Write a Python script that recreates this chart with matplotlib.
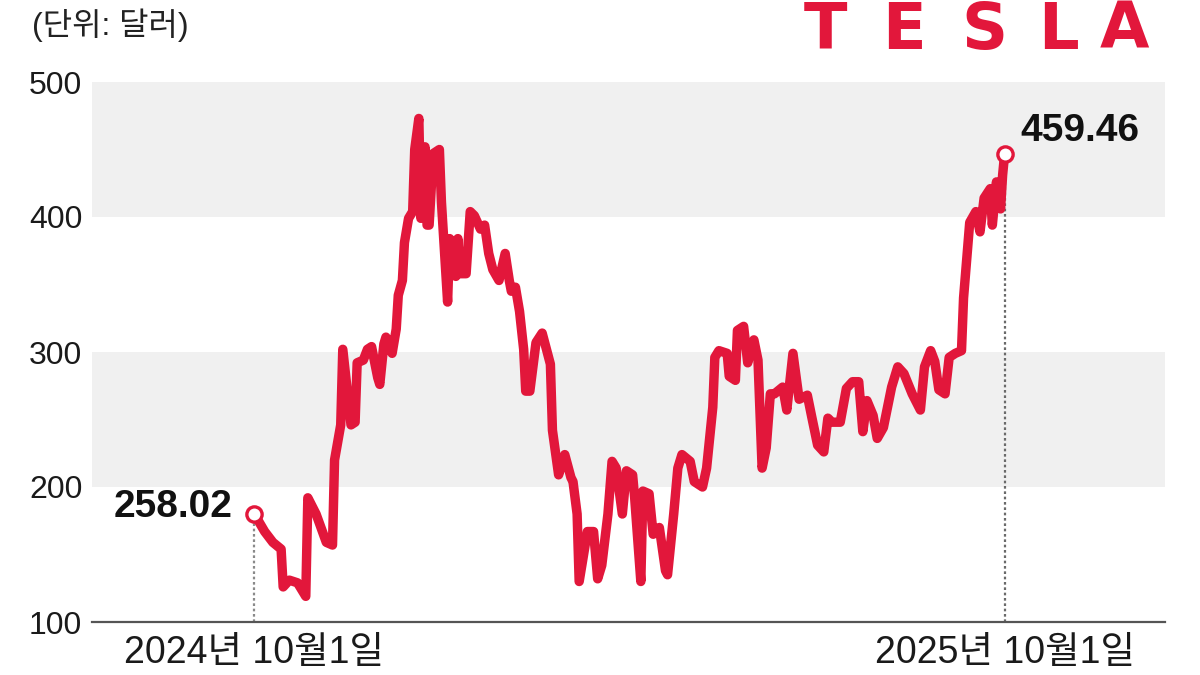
import pandas as pd
import matplotlib
matplotlib.use('Agg')
import matplotlib.pyplot as plt

plt.rcParams['font.family'] = ['Liberation Sans', 'Noto Sans CJK KR', 'DejaVu Sans']

# days since 2024-10-01, price as drawn on the axis scale
days = [0, 5, 9, 13, 14, 17, 21, 25, 26, 30, 35, 38, 39, 42, 43, 47, 49, 50, 53, 55,
        57, 60, 61, 63, 64, 67, 69, 70, 72, 73, 75, 77, 78, 80, 81, 83, 84, 85, 87, 90,
        91, 94, 95, 98, 99, 100, 103, 105, 107, 110, 112, 114, 116, 119, 122, 124, 125, 127, 129, 131,
        132, 134, 137, 140, 144, 145, 148, 151, 154, 155, 157, 158, 162, 165, 167, 169, 172, 174, 176, 179,
        181, 184, 185, 188, 189, 192, 194, 197, 200, 201, 204, 206, 208, 212, 214, 218, 220, 223, 224, 226,
        230, 231, 234, 235, 238, 240, 243, 245, 247, 249, 251, 253, 257, 259, 262, 265, 269, 271, 274, 277,
        279, 281, 285, 288, 291, 294, 296, 298, 301, 303, 306, 310, 313, 316, 320, 324, 326, 329, 331, 333,
        336, 338, 341, 344, 345, 347, 348, 351, 353, 355, 358, 359, 361, 363, 364, 365]
price = [180, 167, 159, 154, 126, 131, 129, 119, 192, 180, 159, 157, 220, 246, 302, 246, 248, 292, 294, 302,
         304, 281, 276, 306, 311, 299, 317, 342, 353, 381, 399, 404, 450, 473, 399, 452, 394, 394, 447, 450,
         411, 337, 384, 356, 384, 358, 358, 404, 401, 391, 394, 373, 361, 353, 373, 353, 345, 348, 330, 302,
         271, 271, 307, 314, 291, 242, 209, 224, 207, 204, 180, 130, 167, 167, 132, 142, 180, 219, 214, 180,
         212, 209, 192, 130, 197, 195, 165, 170, 138, 135, 180, 214, 224, 219, 204, 200, 214, 259, 296, 301,
         299, 282, 279, 316, 319, 292, 309, 294, 214, 229, 269, 269, 274, 257, 299, 265, 268, 253, 231, 226,
         251, 248, 248, 273, 278, 278, 241, 264, 253, 236, 244, 274, 289, 284, 269, 257, 289, 301, 293, 272,
         269, 296, 299, 301, 340, 377, 396, 404, 389, 414, 421, 394, 426, 406, 431, 447]

start_label = '258.02'
end_label = '459.46'
y_ticks = [100, 200, 300, 400, 500]
x_tick_labels = ['2024년 10월1일', '2025년 10월1일']

start = pd.Timestamp('2024-10-01')
dates = start + pd.to_timedelta(days, unit='D')

red = '#e2173b'

fig = plt.figure(figsize=(12, 6.75), dpi=100)
ax = fig.add_axes([92 / 1200, 53 / 675, 1073 / 1200, 540 / 675])

# grey bands
ax.axhspan(400, 500, color='#f0f0f0', lw=0, zorder=0)
ax.axhspan(200, 300, color='#f0f0f0', lw=0, zorder=0)

# guide lines down to the baseline
ax.plot([dates[0], dates[0]], [100, price[0]], color='#8a8a8a', lw=1.6, ls=(0, (1.2, 1.2)), zorder=1)
ax.plot([dates[-1], dates[-1]], [100, price[-1]], color='#6a6a6a', lw=1.6, ls=(0, (1.2, 1.2)), zorder=1)

ax.plot(dates, price, color=red, lw=6.8, solid_joinstyle='round', solid_capstyle='round', zorder=3)
ax.plot([dates[0], dates[-1]], [price[0], price[-1]], ls='none', marker='o', ms=11,
        mfc='white', mec=red, mew=2.4, zorder=4)

ax.annotate(start_label, (dates[0], price[0]), xytext=(-16, 5), textcoords='offset points',
            ha='right', va='center', fontsize=28, fontweight='bold', color='#111111')
ax.annotate(end_label, (dates[-1], price[-1]), xytext=(11, 16), textcoords='offset points',
            ha='left', va='center', fontsize=28, fontweight='bold', color='#111111')

ax.set_ylim(100, 500)
ax.set_xlim(start - pd.Timedelta(days=79), start + pd.Timedelta(days=443))
ax.set_yticks(y_ticks)
ax.set_yticklabels([str(v) for v in y_ticks])
ax.set_xticks([dates[0], dates[-1]])
ax.set_xticklabels(x_tick_labels)

ax.tick_params(axis='y', length=0, pad=7, labelsize=23, labelcolor='#1a1a1a')
ax.tick_params(axis='x', length=0, pad=9, labelsize=27, labelcolor='#1a1a1a')

for s in ['top', 'right', 'left']:
    ax.spines[s].set_visible(False)
ax.spines['bottom'].set_color('#555555')
ax.spines['bottom'].set_linewidth(1.6)
ax.spines['bottom'].set_zorder(5)

fig.text(32 / 1200, 1 - 8 / 675, '(단위: 달러)', ha='left', va='top', fontsize=23, color='#222222')

# logo letters
for ch, cx in zip('TESLA', [825, 904, 984, 1058, 1124]):
    fig.text(cx / 1200, 1 - 31 / 675, ch, ha='center', va='center', fontsize=46,
             fontweight='bold', color=red, fontfamily=['DejaVu Sans'])

fig.savefig('out.png', dpi=100, facecolor='white')
